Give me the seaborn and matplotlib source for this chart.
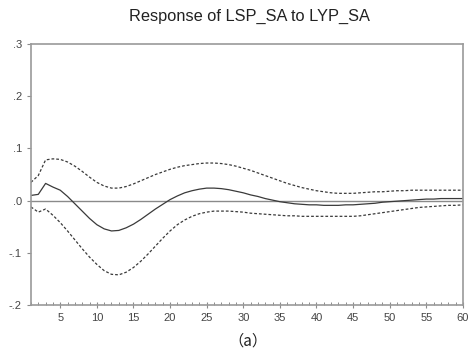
import numpy as np
import pandas as pd
import matplotlib
matplotlib.use("Agg")
import matplotlib.pyplot as plt
import seaborn as sns
from matplotlib.ticker import MultipleLocator

periods = list(range(1, 61))

response = [
    0.010, 0.012, 0.033, 0.026, 0.020, 0.008, -0.006, -0.020, -0.034, -0.046,
    -0.054, -0.058, -0.057, -0.052, -0.045, -0.036, -0.026, -0.016, -0.007, 0.002,
    0.009, 0.015, 0.019, 0.022, 0.024, 0.024, 0.023, 0.021, 0.018, 0.015,
    0.011, 0.008, 0.004, 0.001, -0.002, -0.004, -0.006, -0.007, -0.008, -0.008,
    -0.009, -0.009, -0.009, -0.008, -0.008, -0.007, -0.006, -0.005, -0.003, -0.002,
    -0.001, 0.000, 0.001, 0.002, 0.003, 0.003, 0.004, 0.004, 0.004, 0.004,
]

upper_band = [
    0.035, 0.048, 0.078, 0.080, 0.079, 0.074, 0.066, 0.056, 0.045, 0.035,
    0.028, 0.024, 0.024, 0.027, 0.032, 0.038, 0.044, 0.050, 0.055, 0.060,
    0.064, 0.067, 0.069, 0.071, 0.072, 0.072, 0.071, 0.069, 0.066, 0.062,
    0.058, 0.053, 0.048, 0.043, 0.038, 0.033, 0.029, 0.025, 0.022, 0.019,
    0.017, 0.015, 0.014, 0.014, 0.014, 0.015, 0.016, 0.017, 0.017, 0.018,
    0.019, 0.019, 0.020, 0.020, 0.020, 0.020, 0.020, 0.020, 0.020, 0.020,
]

lower_band = [
    -0.012, -0.022, -0.016, -0.028, -0.042, -0.058, -0.075, -0.092, -0.108, -0.122,
    -0.134, -0.141, -0.142, -0.137, -0.128, -0.116, -0.102, -0.087, -0.072, -0.058,
    -0.046, -0.037, -0.030, -0.025, -0.022, -0.020, -0.020, -0.020, -0.021, -0.022,
    -0.024, -0.025, -0.026, -0.027, -0.028, -0.029, -0.029, -0.030, -0.030, -0.030,
    -0.030, -0.030, -0.030, -0.030, -0.030, -0.029, -0.027, -0.025, -0.023, -0.021,
    -0.019, -0.017, -0.015, -0.013, -0.012, -0.011, -0.010, -0.009, -0.009, -0.008,
]

y_ticks = [0.3, 0.2, 0.1, 0.0, -0.1, -0.2]
y_tick_labels = [".3", ".2", ".1", ".0", "-.1", "-.2"]
x_ticks = [5, 10, 15, 20, 25, 30, 35, 40, 45, 50, 55, 60]

title = "Response of LSP_SA to LYP_SA"
caption = "（a）"

sns.set_style("white")
plt.rcParams["font.family"] = ["Liberation Sans", "DejaVu Sans"]

df = pd.DataFrame({"period": periods, "response": response,
                   "upper": upper_band, "lower": lower_band})

fig = plt.figure(figsize=(4.69, 3.54), dpi=100)
ax = fig.add_axes([0.066, 0.138, 0.921, 0.738])

line_color = "#3a3a3a"
sns.lineplot(data=df, x="period", y="response", ax=ax, color=line_color, lw=0.9)
sns.lineplot(data=df, x="period", y="upper", ax=ax, color=line_color, lw=0.9,
             dashes=False, linestyle=(0, (2.2, 1.6)))
sns.lineplot(data=df, x="period", y="lower", ax=ax, color=line_color, lw=0.9,
             dashes=False, linestyle=(0, (2.2, 1.6)))
ax.axhline(0.0, color="#8a8a8a", lw=1.0, zorder=0)

ax.set_xlim(1, 60)
ax.set_ylim(-0.2, 0.3)
ax.set_yticks(y_ticks)
ax.set_yticklabels(y_tick_labels)
ax.set_xticks(x_ticks)
ax.set_xticklabels([str(v) for v in x_ticks])
ax.xaxis.set_minor_locator(MultipleLocator(1))
ax.set_xlabel("")
ax.set_ylabel("")

for s in ax.spines.values():
    s.set_color("#9a9a9a")
    s.set_linewidth(1.2)

ax.tick_params(axis="y", direction="out", length=3, width=0.8, color="#8a8a8a",
               labelsize=8, labelcolor="#444444", pad=3.5, left=True)
ax.tick_params(axis="x", which="major", direction="inout", length=5, width=0.8,
               color="#8a8a8a", labelsize=8, labelcolor="#444444", pad=3,
               bottom=True)
ax.tick_params(axis="x", which="minor", direction="in", length=2.5, width=0.7,
               color="#8a8a8a", bottom=True)

fig.text(0.531, 0.953, title, ha="center", va="center", fontsize=11.8,
         color="#222222")
fig.text(0.529, 0.037, caption, ha="center", va="center", fontsize=11,
         color="#222222", family=["Noto Sans CJK SC", "DejaVu Sans"])

fig.savefig("out.png", dpi=100)
